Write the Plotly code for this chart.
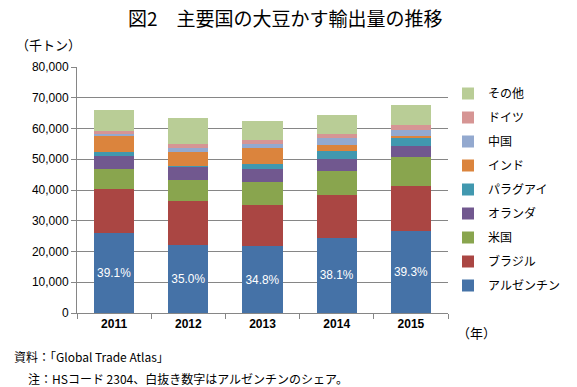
import plotly.graph_objects as go

years = ["2011", "2012", "2013", "2014", "2015"]
series_names = ["アルゼンチン", "ブラジル", "米国", "オランダ", "パラグアイ", "インド", "中国", "ドイツ", "その他"]
argentina = [25900, 22200, 21700, 24500, 26600]
brazil = [14300, 14300, 13300, 13800, 14600]
usa = [6500, 6800, 7500, 7800, 9400]
netherlands = [4500, 4200, 4200, 3900, 3700]
paraguay = [1100, 400, 1900, 2600, 2600]
india = [5400, 4400, 4900, 1900, 700]
china = [450, 1400, 1400, 2400, 1900]
germany = [1200, 1200, 1200, 1300, 1500]
others = [6800, 8500, 6200, 6100, 6500]
argentina_share = ["39.1%", "35.0%", "34.8%", "38.1%", "39.3%"]

colors = ["#4572A7", "#AA4643", "#89A54E", "#71588F", "#4198AF",
          "#DB843D", "#93A9CF", "#D69594", "#B9CD96"]
values = [argentina, brazil, usa, netherlands, paraguay, india, china, germany, others]

JP = "Noto Sans CJK JP"
NUM = "Liberation Sans, Arial"

fig = go.Figure()
n = len(series_names)
for i, (name, vals, col) in enumerate(zip(series_names, values, colors)):
    kw = {}
    if i == 0:
        kw = dict(text=argentina_share, textposition="inside", insidetextanchor="middle",
                  textfont=dict(color="white", size=12, family=NUM), textangle=0)
    fig.add_trace(go.Bar(x=years, y=vals, name=name, marker_color=col,
                         marker_line_width=0, legendgroup=name,
                         legendrank=n - i, **kw))

fig.update_layout(
    barmode="stack",
    bargap=0.46,
    width=577, height=387,
    margin=dict(l=77, r=124, t=67, b=74),
    paper_bgcolor="white", plot_bgcolor="white",
    showlegend=True,
    legend=dict(x=1.0, xanchor="left", y=1 - 12 / 246, yanchor="top",
                traceorder="grouped", tracegroupgap=5,
                font=dict(family=JP, size=12, color="black"),
                itemwidth=30, bgcolor="rgba(0,0,0,0)"),
    font=dict(family=JP, color="black"),
)
fig.update_yaxes(range=[0, 80000], tickformat=",", dtick=10000,
                 showgrid=True, gridcolor="#868686", gridwidth=1,
                 showline=True, linecolor="#868686", linewidth=1,
                 ticks="outside", ticklen=5, tickcolor="#868686",
                 tickfont=dict(family=NUM, size=12, color="black"),
                 zeroline=False)
fig.update_xaxes(showline=True, linecolor="#868686", linewidth=1,
                 ticks="outside", ticklen=5, tickcolor="#868686",
                 tickson="boundaries",
                 tickfont=dict(family=NUM, size=12, color="black", weight="bold"))

fig.add_annotation(text="図2　主要国の大豆かす輸出量の推移", xref="paper", yref="paper",
                   x=(288 - 77) / 376, y=1 + (67 - 17) / 246, xanchor="center", yanchor="middle",
                   showarrow=False, font=dict(family=JP, size=19, color="black"))
fig.add_annotation(text="（千トン）", xref="paper", yref="paper",
                   x=(13 - 77) / 376, y=1 + (67 - 44) / 246, xanchor="left", yanchor="middle",
                   showarrow=False, font=dict(family=JP, size=13, color="black"))
fig.add_annotation(text="（年）", xref="paper", yref="paper",
                   x=(460 - 77) / 376, y=-(332 - 313) / 246, xanchor="left", yanchor="middle",
                   showarrow=False, font=dict(family=JP, size=13, color="black"))
fig.add_annotation(text="資料：「Global Trade Atlas」", xref="paper", yref="paper",
                   x=(11 - 77) / 376, y=-(356 - 313) / 246, xanchor="left", yanchor="middle",
                   showarrow=False, font=dict(family=JP, size=12, color="black"))
fig.add_annotation(text="注：HSコード 2304、白抜き数字はアルゼンチンのシェア。", xref="paper", yref="paper",
                   x=(25 - 77) / 376, y=-(378 - 313) / 246, xanchor="left", yanchor="middle",
                   showarrow=False, font=dict(family=JP, size=12, color="black"))

fig.write_html("out.html", config={"displayModeBar": False},
               post_script="document.body.style.margin='0';document.body.style.padding='0';")
